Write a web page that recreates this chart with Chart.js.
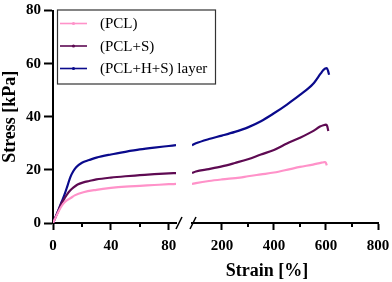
<!DOCTYPE html>
<html><head><meta charset="utf-8">
<script src="https://cdn.jsdelivr.net/npm/chart.js@4.4.1/dist/chart.umd.min.js"></script>
<style>html,body{margin:0;padding:0;background:#fff}</style>
</head><body>
<canvas id="c" width="392" height="282" style="display:block;width:392px;height:282px"></canvas>
<script>
// ---------- data ----------
const seriesLabels = ['(PCL)', '(PCL+S)', '(PCL+H+S) layer'];
const seriesColors = ['#ff92c9', '#5e0a52', '#0a0a8c'];

const pclStrain   = [0, 2, 4, 6, 8, 10, 12, 15, 21, 30, 40, 50, 60, 70, 80, 85, 100, 150, 200, 269, 300, 350, 400, 462, 500, 550, 583, 595, 600, 603];
const pclStress   = [0, 2.3, 4.5, 6.4, 7.8, 8.7, 9.3, 10.4, 11.6, 12.5, 13.2, 13.7, 14.0, 14.3, 14.6, 14.7, 15.0, 15.8, 16.4, 17.1, 17.6, 18.3, 19.0, 20.3, 21.1, 22.0, 22.7, 22.9, 22.6, 21.7];

const pclSStrain  = [0, 2, 4, 6, 8, 10, 12, 14, 17, 21, 25, 30, 40, 50, 60, 70, 80, 85, 100, 150, 200, 250, 300, 350, 400, 450, 500, 550, 577, 590, 600, 605, 609];
const pclSStress  = [0, 2.5, 5.0, 7.5, 9.3, 11.0, 12.3, 13.3, 14.5, 15.3, 15.8, 16.4, 17.1, 17.6, 18.0, 18.4, 18.7, 18.8, 19.4, 20.3, 21.3, 22.6, 24.0, 25.8, 27.5, 29.9, 32.1, 34.6, 36.3, 36.8, 37.0, 36.4, 34.6];

const pclHSStrain = [0, 2, 4, 6, 8, 10, 12, 14, 16, 20, 25, 30, 40, 50, 60, 70, 80, 85, 100, 150, 200, 250, 300, 350, 400, 450, 500, 550, 580, 590, 597, 603, 608, 612];
const pclHSStress = [0, 2.6, 5.2, 8.0, 10.8, 14.0, 17.3, 19.5, 21.0, 22.7, 23.7, 24.6, 25.8, 26.8, 27.7, 28.4, 29.0, 29.3, 30.0, 31.6, 32.9, 34.3, 36.0, 38.3, 41.3, 44.6, 48.2, 52.3, 56.3, 57.6, 58.2, 58.3, 57.3, 55.8];

const xBreak = 85;          // end of first x segment / start of second
const xMax = 800;
const xLeftTicks  = [0, 40, 80];
const xLeftMinor  = [20, 60];
const xRightTicks = [200, 400, 600, 800];
const xRightMinor = [300, 500, 700];
const yTicks = [0, 20, 40, 60, 80];

// ---------- build ----------
const strainSets = [pclStrain, pclSStrain, pclHSStrain];
const stressSets = [pclStress, pclSStress, pclHSStress];
const serif = '"Liberation Serif", "Times New Roman", serif';
const tickFont  = {family: serif, size: 15, weight: 'bold', lineHeight: 1};
const titleFont = {family: serif, size: 18, weight: 'bold', lineHeight: 1.2};

const datasets = [];
seriesLabels.forEach((lab, i) => {
  const pts = strainSets[i].map((x, k) => ({x, y: stressSets[i][k]}));
  const common = {label: lab, borderColor: seriesColors[i], backgroundColor: seriesColors[i],
    borderWidth: 2.2, pointRadius: 0, fill: false, cubicInterpolationMode: 'monotone', yAxisID: 'y'};
  datasets.push(Object.assign({}, common, {data: pts.filter(p => p.x <= xBreak), xAxisID: 'x1', legendShow: true}));
  datasets.push(Object.assign({}, common, {data: pts.filter(p => p.x >= xBreak), xAxisID: 'x2', legendShow: false}));
});

const hiddenAxis = (weight, stack, h) => ({
  type: 'linear', position: 'bottom', stack, stackWeight: weight, min: 0, max: 1,
  grid: {display: false}, border: {display: false}, ticks: {display: false},
  afterFit: s => { s.height = h; }
});

const segAxis = (weight, min, max, ticks) => ({
  type: 'linear', position: 'bottom', stack: 'xs', stackWeight: weight, min, max,
  afterBuildTicks: s => { s.ticks = ticks.map(v => ({value: v})); },
  afterFit: s => { s.height = 34; s.paddingLeft = 0; s.paddingRight = 0; },
  grid: {display: true, drawOnChartArea: false, drawTicks: true, tickLength: 7, tickWidth: 2, tickColor: '#000'},
  border: {display: true, color: '#000', width: 2},
  ticks: {font: tickFont, color: '#000', padding: 9, maxRotation: 0, autoSkip: false}
});

const xt2 = hiddenAxis(222, 'xt', 25);
xt2.title = {display: true, text: 'Strain [%]', font: titleFont, color: '#000', padding: {top: 0, bottom: 0}};

// legend drawn inside plot area, built from dataset labels/colours
const boxLegend = {
  id: 'boxLegend',
  afterDraw(chart) {
    const {ctx, chartArea} = chart;
    const x0 = chartArea.left + 4, y0 = chartArea.top - 1, w = 158, h = 74;
    ctx.save();
    ctx.strokeStyle = '#333'; ctx.lineWidth = 1.2;
    ctx.strokeRect(x0 + 0.5, y0 + 0.5, w, h);
    ctx.font = '15px ' + serif; ctx.textBaseline = 'middle'; ctx.textAlign = 'left'; ctx.fillStyle = '#000';
    chart.data.datasets.filter(d => d.legendShow).forEach((d, i) => {
      const cy = y0 + 14 + i * 22.5;
      ctx.strokeStyle = d.borderColor; ctx.lineWidth = 1.6;
      ctx.beginPath(); ctx.moveTo(x0 + 3, cy); ctx.lineTo(x0 + 30, cy); ctx.stroke();
      ctx.fillStyle = d.borderColor;
      ctx.beginPath(); ctx.arc(x0 + 16.5, cy, 1.6, 0, Math.PI * 2); ctx.fill();
      ctx.fillStyle = '#000';
      ctx.fillText(d.label, x0 + 43, cy + 1);
    });
    ctx.restore();
  }
};

// axis break marks and minor ticks
const axisDeco = {
  id: 'axisDeco',
  afterDraw(chart) {
    const {ctx} = chart;
    const s1 = chart.scales.x1, s2 = chart.scales.x2;
    const ay = s1.top;
    ctx.save();
    ctx.strokeStyle = '#000'; ctx.lineWidth = 2;
    [[s1, xLeftMinor], [s2, xRightMinor]].forEach(([s, vals]) => {
      vals.forEach(v => {
        const px = Math.round(s.getPixelForValue(v));
        ctx.beginPath(); ctx.moveTo(px, ay); ctx.lineTo(px, ay + 4); ctx.stroke();
      });
    });
    ctx.lineWidth = 1.6;
    [s1.right + 3, s2.left + 1].forEach(px => {
      ctx.beginPath(); ctx.moveTo(px - 3, ay + 6); ctx.lineTo(px + 3, ay - 6); ctx.stroke();
    });
    ctx.restore();
  }
};

new Chart(document.getElementById('c'), {
  type: 'line',
  data: {datasets},
  options: {
    responsive: false, animation: false, devicePixelRatio: 1,
    layout: {padding: {left: 0, right: 14, top: 0, bottom: 0}},
    plugins: {legend: {display: false}, tooltip: {enabled: false}},
    scales: {
      x1: segAxis(123, 0, xBreak, xLeftTicks),
      xg: hiddenAxis(16, 'xs', 34),
      x2: segAxis(186, xBreak, xMax, xRightTicks),
      xt1: hiddenAxis(103, 'xt', 25),
      xt2: xt2,
      y: {
        type: 'linear', position: 'left', min: 0, max: 80,
        afterBuildTicks: s => { s.ticks = yTicks.map(v => ({value: v})); },
        afterFit: s => { s.width = 53; },
        grid: {display: true, drawOnChartArea: false, tickLength: 9, tickWidth: 2, tickColor: '#000'},
        border: {display: true, color: '#000', width: 2},
        ticks: {font: tickFont, color: '#000', padding: 3},
        title: {display: true, text: 'Stress [kPa]', font: titleFont, color: '#000', padding: {top: 0, bottom: 0}}
      }
    }
  },
  plugins: [boxLegend, axisDeco]
});
</script>
</body></html>
